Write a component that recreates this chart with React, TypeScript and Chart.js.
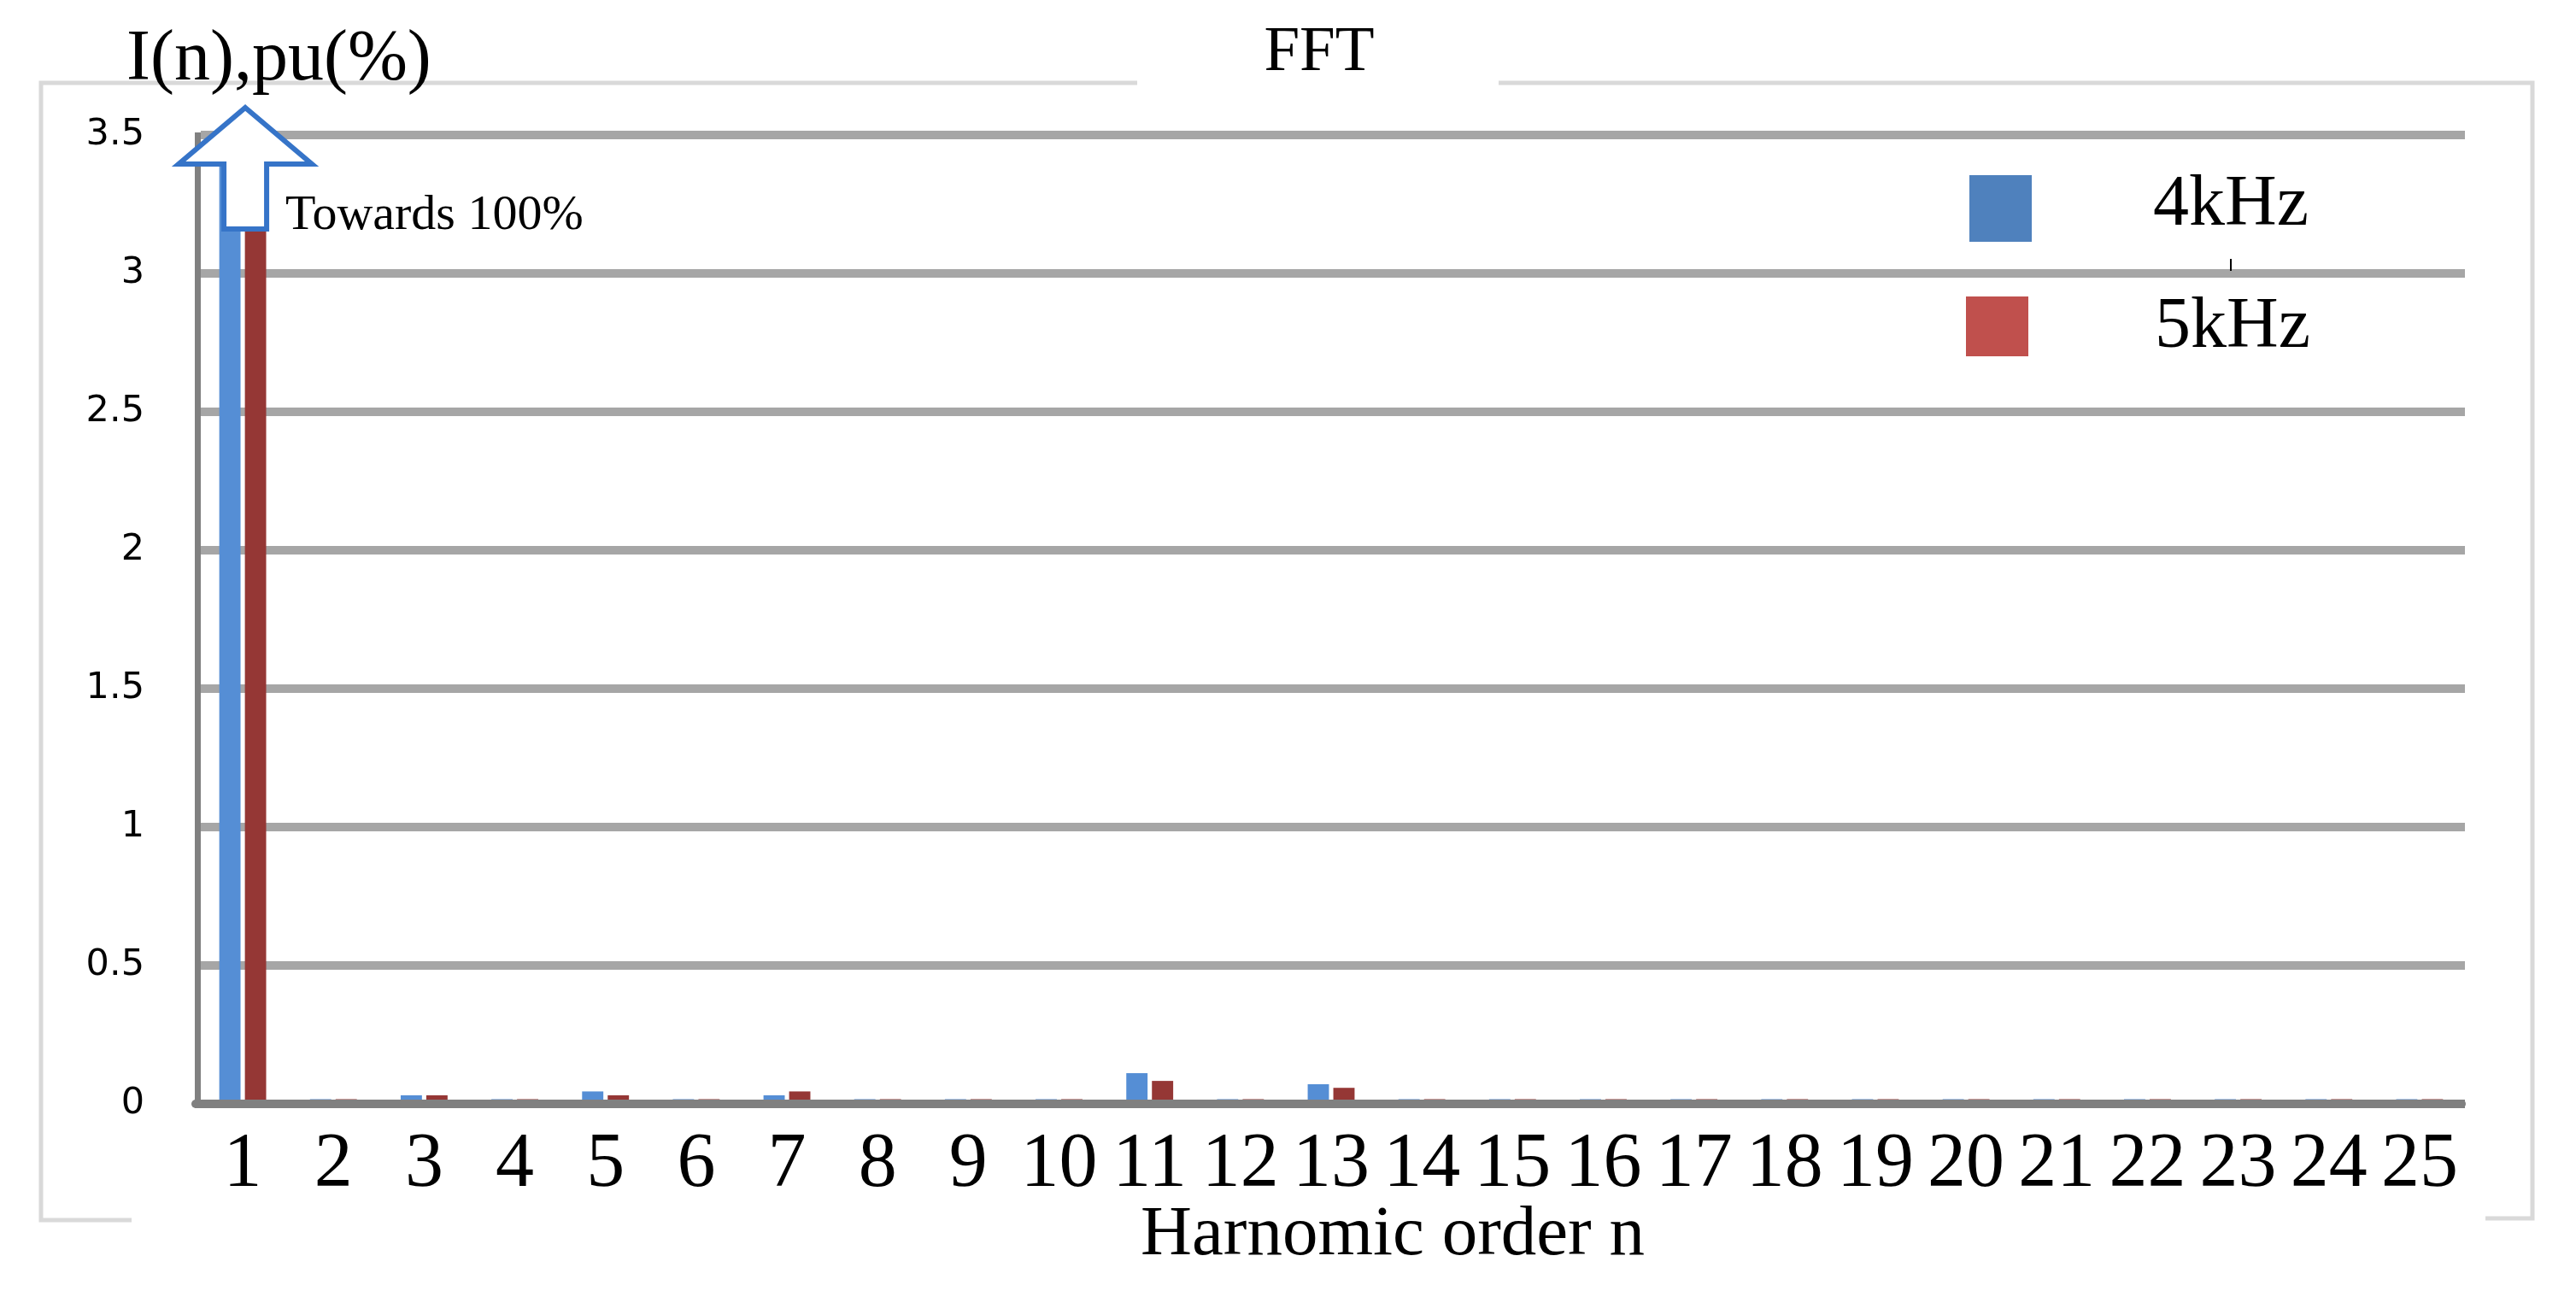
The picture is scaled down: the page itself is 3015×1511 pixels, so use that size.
import React, { useEffect, useRef } from 'react';
import { Chart, registerables } from 'chart.js';

Chart.register(...registerables);

// ---- data ----
const harmonicOrders = ['1', '2', '3', '4', '5', '6', '7', '8', '9', '10', '11', '12', '13', '14', '15', '16', '17', '18', '19', '20', '21', '22', '23', '24', '25'];
// fundamental goes "towards 100%" (off the scale)
const series4kHz = [100, 0.017, 0.031, 0.017, 0.045, 0.017, 0.031, 0.017, 0.017, 0.017, 0.111, 0.017, 0.071, 0.017, 0.017, 0.017, 0.017, 0.017, 0.017, 0.017, 0.017, 0.017, 0.017, 0.017, 0.017];
const series5kHz = [100, 0.017, 0.031, 0.017, 0.031, 0.017, 0.045, 0.017, 0.017, 0.017, 0.083, 0.017, 0.058, 0.017, 0.017, 0.017, 0.017, 0.017, 0.017, 0.017, 0.017, 0.017, 0.017, 0.017, 0.017];
const seriesLabels = ['4kHz', '5kHz'];
const yTicks = [0, 0.5, 1, 1.5, 2, 2.5, 3, 3.5];
const chartTitle = 'FFT';
const yAxisTitle = 'I(n),pu(%)';
const xAxisTitle = 'Harnomic order n';
const arrowNote = 'Towards 100%';

const SERIF = '"Liberation Serif", "Times New Roman", serif';
const BAR_COLORS = ['#558ED5', '#953735'];
const LEGEND_COLORS = ['#4F81BD', '#C0504D'];

const decorPlugin = {
  id: 'decor',
  beforeDraw(chart: any) {
    const ctx = chart.ctx;
    ctx.save();
    ctx.strokeStyle = '#D9D9D9';
    ctx.lineWidth = 5;
    ctx.lineCap = 'butt';
    ctx.lineJoin = 'miter';
    ctx.beginPath();
    ctx.moveTo(1331, 97);
    ctx.lineTo(48, 97);
    ctx.lineTo(48, 1428);
    ctx.lineTo(154, 1428);
    ctx.moveTo(1754, 97);
    ctx.lineTo(2964, 97);
    ctx.lineTo(2964, 1426);
    ctx.lineTo(2909, 1426);
    ctx.stroke();
    ctx.restore();
  },
  afterDatasetsDraw(chart: any) {
    const { ctx, chartArea } = chart;
    const xs = chart.scales.x;
    const ys = chart.scales.y;
    const y0 = ys.getPixelForValue(0);
    ctx.save();
    // x axis line (drawn over bar bottoms)
    ctx.strokeStyle = '#808080';
    ctx.lineWidth = 10;
    ctx.lineCap = 'round';
    ctx.beginPath();
    ctx.moveTo(chartArea.left - 2, y0);
    ctx.lineTo(chartArea.right - 4, y0);
    ctx.stroke();

    // arrow over the fundamental
    const cx = xs.getPixelForValue(0) + 3;
    const top = chartArea.top;
    const tipY = top - 32;
    const headY = top + 34;
    const tailY = top + 110;
    const hw = 78;
    const sw = 25;
    ctx.beginPath();
    ctx.moveTo(cx, tipY);
    ctx.lineTo(cx + hw, headY);
    ctx.lineTo(cx + sw, headY);
    ctx.lineTo(cx + sw, tailY);
    ctx.lineTo(cx - sw, tailY);
    ctx.lineTo(cx - sw, headY);
    ctx.lineTo(cx - hw, headY);
    ctx.closePath();
    ctx.fillStyle = '#FFFFFF';
    ctx.fill();
    ctx.strokeStyle = '#3674C8';
    ctx.lineWidth = 6;
    ctx.lineJoin = 'miter';
    ctx.lineCap = 'butt';
    ctx.stroke();

    ctx.fillStyle = '#000000';
    ctx.textBaseline = 'alphabetic';
    ctx.textAlign = 'left';
    ctx.font = `58px ${SERIF}`;
    ctx.fillText(arrowNote, 334, 268);

    // y axis title
    ctx.font = `84px ${SERIF}`;
    ctx.fillText(yAxisTitle, 148, 93);

    // chart title
    ctx.textAlign = 'center';
    ctx.font = `75px ${SERIF}`;
    ctx.fillText(chartTitle, 1544, 82);

    // x axis title
    ctx.font = `83px ${SERIF}`;
    ctx.fillText(xAxisTitle, (chartArea.left + chartArea.right) / 2 + 72, 1468);

    // legend
    const ds = chart.data.datasets;
    const boxes = [
      { x: 2305, y: 205, w: 73, h: 78, tx: 2520, ty: 263 },
      { x: 2301, y: 347, w: 73, h: 70, tx: 2522, ty: 406 },
    ];
    ctx.textAlign = 'left';
    ctx.font = `84px ${SERIF}`;
    ds.forEach((d: any, i: number) => {
      const b = boxes[i];
      ctx.fillStyle = LEGEND_COLORS[i];
      ctx.fillRect(b.x, b.y, b.w, b.h);
      ctx.fillStyle = '#000000';
      ctx.fillText(d.label, b.tx, b.ty);
    });
    // small stray tick mark
    ctx.strokeStyle = '#000000';
    ctx.lineWidth = 2;
    ctx.beginPath();
    ctx.moveTo(2611, 303);
    ctx.lineTo(2611, 317);
    ctx.stroke();
    ctx.restore();
  },
};

export default function App() {
  const canvasRef = useRef<HTMLCanvasElement | null>(null);

  useEffect(() => {
    if (!canvasRef.current) return;
    const chart = new Chart(canvasRef.current, {
      type: 'bar',
      data: {
        labels: harmonicOrders,
        datasets: [
          {
            label: seriesLabels[0],
            data: series4kHz,
            backgroundColor: BAR_COLORS[0],
            categoryPercentage: 0.565,
            barPercentage: 0.83,
            clip: 0,
          },
          {
            label: seriesLabels[1],
            data: series5kHz,
            backgroundColor: BAR_COLORS[1],
            categoryPercentage: 0.565,
            barPercentage: 0.83,
            clip: 0,
          },
        ],
      },
      options: {
        responsive: true,
        maintainAspectRatio: false,
        animation: false,
        layout: { padding: { top: 158, right: 130, bottom: 0, left: 0 } },
        plugins: {
          legend: { display: false },
          title: { display: false },
          tooltip: { enabled: false },
        },
        scales: {
          x: {
            type: 'category',
            grid: { display: false, drawTicks: false },
            border: { display: false },
            ticks: {
              color: '#000000',
              font: { family: SERIF, size: 90 },
              padding: 18,
              maxRotation: 0,
              minRotation: 0,
              autoSkip: false,
            },
            afterFit: (scale: any) => {
              scale.height = 219;
            },
          },
          y: {
            min: 0,
            max: 3.5,
            afterBuildTicks: (scale: any) => {
              scale.ticks = yTicks.map((v) => ({ value: v }));
            },
            ticks: {
              color: '#000000',
              font: { family: '"DejaVu Sans"', size: 43 },
              padding: 62,
              callback: (v: any) => String(v),
            },
            grid: {
              drawTicks: false,
              lineWidth: 10,
              color: (c: any) => (c.tick && c.tick.value === 0 ? '#808080' : '#A6A6A6'),
            },
            border: { display: true, color: '#808080', width: 7 },
            afterFit: (scale: any) => {
              scale.width = 231;
            },
          },
        },
      },
      plugins: [decorPlugin],
    });
    return () => chart.destroy();
  }, []);

  return (
    <div style={{ position: 'fixed', left: 0, top: 0, width: '3015px', height: '1511px', background: '#FFFFFF' }}>
      <canvas ref={canvasRef} />
    </div>
  );
}
